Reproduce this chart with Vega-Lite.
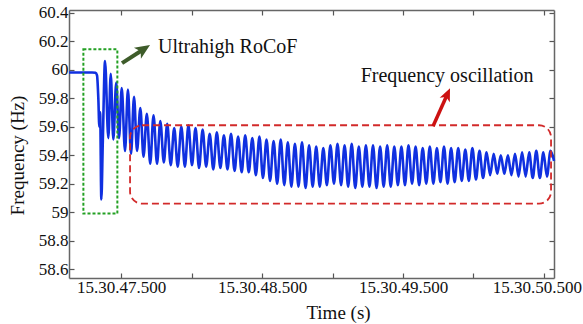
{
  "$schema": "https://vega.github.io/schema/vega-lite/v6.json",
  "width": 485,
  "height": 268,
  "autosize": {"type": "none"},
  "padding": {"left": 69, "top": 10, "right": 29, "bottom": 46},
  "background": "white",
  "config": {
    "font": "Liberation Serif",
    "view": {"stroke": null},
    "axis": {
      "grid": false,
      "domainColor": "#666666",
      "domainWidth": 1.5,
      "tickColor": "#555555",
      "tickWidth": 1.2,
      "tickSize": -5,
      "labelFont": "Liberation Serif",
      "labelFontSize": 17,
      "labelColor": "#111111",
      "titleFont": "Liberation Serif",
      "titleFontSize": 19,
      "titleFontWeight": "normal",
      "titleColor": "#111111",
      "labelOverlap": false
    }
  },
  "layer": [
    {
      "data": {"values": [
        {"t": 47.1312, "f": 59.98}, {"t": 47.2092, "f": 59.98}, {"t": 47.2943, "f": 59.98}, {"t": 47.3191, "f": 59.978},
        {"t": 47.3298, "f": 59.96}, {"t": 47.3390, "f": 59.80}, {"t": 47.3461, "f": 59.60}, {"t": 47.3518, "f": 59.70},
        {"t": 47.3603, "f": 59.09}, {"t": 47.3709, "f": 59.50}, {"t": 47.3865, "f": 60.06}, {"t": 47.4099, "f": 59.52},
        {"t": 47.4270, "f": 59.97}, {"t": 47.4454, "f": 59.51}, {"t": 47.4660, "f": 59.91}, {"t": 47.4858, "f": 59.52},
        {"t": 47.5050, "f": 59.87}, {"t": 47.5284, "f": 59.43}, {"t": 47.5489, "f": 59.86}, {"t": 47.5709, "f": 59.41},
        {"t": 47.5922, "f": 59.81}, {"t": 47.6135, "f": 59.43}, {"t": 47.6369, "f": 59.73}, {"t": 47.6596, "f": 59.39},
        {"t": 47.6830, "f": 59.69}, {"t": 47.7071, "f": 59.34}, {"t": 47.7305, "f": 59.68}, {"t": 47.7553, "f": 59.34},
        {"t": 47.7787, "f": 59.64}, {"t": 47.8035, "f": 59.35}, {"t": 47.8277, "f": 59.62}, {"t": 47.8525, "f": 59.33},
        {"t": 47.8773, "f": 59.59}, {"t": 47.9021, "f": 59.32},
        {"t": 47.9277, "f": 59.60}, {"t": 47.9529, "f": 59.32}, {"t": 47.9781, "f": 59.61}, {"t": 48.0032, "f": 59.33},
        {"t": 48.0284, "f": 59.59}, {"t": 48.0536, "f": 59.31}, {"t": 48.0788, "f": 59.58}, {"t": 48.1039, "f": 59.32},
        {"t": 48.1291, "f": 59.55}, {"t": 48.1543, "f": 59.30}, {"t": 48.1795, "f": 59.56}, {"t": 48.2046, "f": 59.31},
        {"t": 48.2298, "f": 59.54}, {"t": 48.2550, "f": 59.30}, {"t": 48.2802, "f": 59.55}, {"t": 48.3054, "f": 59.29},
        {"t": 48.3305, "f": 59.53}, {"t": 48.3557, "f": 59.28}, {"t": 48.3809, "f": 59.54}, {"t": 48.4061, "f": 59.28},
        {"t": 48.4312, "f": 59.52}, {"t": 48.4564, "f": 59.26}, {"t": 48.4816, "f": 59.53}, {"t": 48.5068, "f": 59.24},
        {"t": 48.5319, "f": 59.51}, {"t": 48.5571, "f": 59.22}, {"t": 48.5823, "f": 59.50}, {"t": 48.6075, "f": 59.20},
        {"t": 48.6327, "f": 59.51}, {"t": 48.6578, "f": 59.19}, {"t": 48.6830, "f": 59.49}, {"t": 48.7082, "f": 59.18},
        {"t": 48.7334, "f": 59.48}, {"t": 48.7585, "f": 59.18}, {"t": 48.7837, "f": 59.49}, {"t": 48.8089, "f": 59.17},
        {"t": 48.8341, "f": 59.47}, {"t": 48.8592, "f": 59.18}, {"t": 48.8844, "f": 59.46}, {"t": 48.9096, "f": 59.18},
        {"t": 48.9348, "f": 59.45}, {"t": 48.9600, "f": 59.19}, {"t": 48.9851, "f": 59.47}, {"t": 49.0103, "f": 59.20},
        {"t": 49.0355, "f": 59.48}, {"t": 49.0607, "f": 59.19}, {"t": 49.0858, "f": 59.47}, {"t": 49.1110, "f": 59.18},
        {"t": 49.1362, "f": 59.48}, {"t": 49.1614, "f": 59.17}, {"t": 49.1866, "f": 59.46}, {"t": 49.2117, "f": 59.18},
        {"t": 49.2369, "f": 59.47}, {"t": 49.2621, "f": 59.18}, {"t": 49.2873, "f": 59.47}, {"t": 49.3124, "f": 59.17},
        {"t": 49.3376, "f": 59.46}, {"t": 49.3628, "f": 59.18}, {"t": 49.3880, "f": 59.47}, {"t": 49.4131, "f": 59.18},
        {"t": 49.4383, "f": 59.46}, {"t": 49.4635, "f": 59.19}, {"t": 49.4887, "f": 59.46}, {"t": 49.5139, "f": 59.19},
        {"t": 49.5390, "f": 59.47}, {"t": 49.5642, "f": 59.20}, {"t": 49.5894, "f": 59.46}, {"t": 49.6146, "f": 59.19},
        {"t": 49.6397, "f": 59.45}, {"t": 49.6649, "f": 59.20}, {"t": 49.6901, "f": 59.46}, {"t": 49.7153, "f": 59.20},
        {"t": 49.7404, "f": 59.45}, {"t": 49.7656, "f": 59.21}, {"t": 49.7908, "f": 59.46}, {"t": 49.8160, "f": 59.20},
        {"t": 49.8412, "f": 59.45}, {"t": 49.8663, "f": 59.21}, {"t": 49.8915, "f": 59.45}, {"t": 49.9167, "f": 59.22},
        {"t": 49.9419, "f": 59.44}, {"t": 49.9670, "f": 59.22}, {"t": 49.9922, "f": 59.45}, {"t": 50.0174, "f": 59.23},
        {"t": 50.0426, "f": 59.43}, {"t": 50.0677, "f": 59.24}, {"t": 50.0929, "f": 59.42}, {"t": 50.1181, "f": 59.26},
        {"t": 50.1433, "f": 59.41}, {"t": 50.1685, "f": 59.27}, {"t": 50.1936, "f": 59.40}, {"t": 50.2188, "f": 59.27},
        {"t": 50.2440, "f": 59.40}, {"t": 50.2692, "f": 59.26}, {"t": 50.2943, "f": 59.41}, {"t": 50.3195, "f": 59.25},
        {"t": 50.3447, "f": 59.42}, {"t": 50.3699, "f": 59.25}, {"t": 50.3950, "f": 59.42}, {"t": 50.4202, "f": 59.24},
        {"t": 50.4454, "f": 59.43}, {"t": 50.4706, "f": 59.24}, {"t": 50.4958, "f": 59.42}, {"t": 50.5209, "f": 59.25},
        {"t": 50.5461, "f": 59.43}, {"t": 50.5713, "f": 59.36}
      ]},
      "mark": {"type": "line", "interpolate": "monotone", "color": "#1030e0", "strokeWidth": 2.6},
      "encoding": {
        "x": {"field": "t", "type": "quantitative",
          "scale": {"domain": [47.131, 50.571], "nice": false, "zero": false},
          "axis": {"orient": "bottom", "values": [47.5, 48, 48.5, 49, 49.5, 50, 50.5],
            "labelExpr": "datum.value % 1 == 0.5 ? '15.30.' + format(datum.value, '.3f') : ''",
            "labelPadding": 6, "labelOffset": {"expr": "datum.value == 50.5 ? -7 : 0"},
            "title": "Time (s)", "titleX": 269, "titleY": 40, "titleBaseline": "alphabetic"}},
        "y": {"field": "f", "type": "quantitative",
          "scale": {"domain": [58.539, 60.418], "nice": false, "zero": false},
          "axis": {"orient": "left", "values": [58.6, 58.8, 59, 59.2, 59.4, 59.6, 59.8, 60, 60.2, 60.4],
            "format": ".1~f", "labelPadding": 6,
            "title": "Frequency (Hz)", "titleX": -52, "titleY": 145, "titleAngle": 270, "titleBaseline": "middle", "titleAlign": "center"}}
      }
    },
    {
      "data": {"values": [{"t1": 47.233, "t2": 47.474, "f1": 58.991, "f2": 60.142}]},
      "mark": {"type": "rect", "filled": false, "stroke": "#23a023", "strokeWidth": 2, "strokeDash": [3, 2]},
      "encoding": {
        "x": {"field": "t1", "type": "quantitative",
          "scale": {"domain": [47.131, 50.571], "nice": false, "zero": false},
          "axis": {"orient": "top", "values": [47.5, 48, 48.5, 49, 49.5, 50, 50.5], "labels": false, "title": null}},
        "x2": {"field": "t2"},
        "y": {"field": "f1", "type": "quantitative",
          "scale": {"domain": [58.539, 60.418], "nice": false, "zero": false},
          "axis": {"orient": "right", "values": [58.6, 58.8, 59, 59.2, 59.4, 59.6, 59.8, 60, 60.2, 60.4], "labels": false, "title": null}},
        "y2": {"field": "f2"}
      }
    },
    {
      "data": {"values": [{"t1": 47.564, "t2": 50.550, "f1": 59.06, "f2": 59.61}]},
      "mark": {"type": "rect", "filled": false, "stroke": "#d22a2a", "strokeWidth": 1.8, "strokeDash": [7, 4], "cornerRadius": 12},
      "encoding": {
        "x": {"field": "t1", "type": "quantitative", "scale": {"domain": [47.131, 50.571], "nice": false, "zero": false}, "axis": null},
        "x2": {"field": "t2"},
        "y": {"field": "f1", "type": "quantitative", "scale": {"domain": [58.539, 60.418], "nice": false, "zero": false}, "axis": null},
        "y2": {"field": "f2"}
      }
    },
    {
      "data": {"values": [{"t1": 47.5071, "f1": 60.0456, "t2": 47.6546, "f2": 60.1393}]},
      "mark": {"type": "rule", "color": "#3e5c2a", "strokeWidth": 4},
      "encoding": {
        "x": {"field": "t1", "type": "quantitative", "scale": {"domain": [47.131, 50.571], "nice": false, "zero": false}, "axis": null},
        "x2": {"field": "t2"},
        "y": {"field": "f1", "type": "quantitative", "scale": {"domain": [58.539, 60.418], "nice": false, "zero": false}, "axis": null},
        "y2": {"field": "f2"}
      }
    },
    {
      "data": {"values": [{"t": 47.6546, "f": 60.1393}]},
      "mark": {"type": "point", "shape": "M0,-1L0.75,0.75L0,0.3L-0.75,0.75Z", "filled": true, "color": "#3e5c2a", "opacity": 1, "size": 294, "angle": 57},
      "encoding": {
        "x": {"field": "t", "type": "quantitative", "scale": {"domain": [47.131, 50.571], "nice": false, "zero": false}, "axis": null},
        "y": {"field": "f", "type": "quantitative", "scale": {"domain": [58.539, 60.418], "nice": false, "zero": false}, "axis": null}
      }
    },
    {
      "data": {"values": [{"t1": 49.7128, "f1": 59.6035, "t2": 49.8121, "f2": 59.8225}]},
      "mark": {"type": "rule", "color": "#cc1111", "strokeWidth": 3.5},
      "encoding": {
        "x": {"field": "t1", "type": "quantitative", "scale": {"domain": [47.131, 50.571], "nice": false, "zero": false}, "axis": null},
        "x2": {"field": "t2"},
        "y": {"field": "f1", "type": "quantitative", "scale": {"domain": [58.539, 60.418], "nice": false, "zero": false}, "axis": null},
        "y2": {"field": "f2"}
      }
    },
    {
      "data": {"values": [{"t": 49.8121, "f": 59.8225}]},
      "mark": {"type": "point", "shape": "M0,-1L0.75,0.75L0,0.3L-0.75,0.75Z", "filled": true, "color": "#cc1111", "opacity": 1, "size": 219, "angle": 24},
      "encoding": {
        "x": {"field": "t", "type": "quantitative", "scale": {"domain": [47.131, 50.571], "nice": false, "zero": false}, "axis": null},
        "y": {"field": "f", "type": "quantitative", "scale": {"domain": [58.539, 60.418], "nice": false, "zero": false}, "axis": null}
      }
    },
    {
      "data": {"values": [
        {"t": 47.762, "f": 60.116, "label": "Ultrahigh RoCoF"},
        {"t": 49.200, "f": 59.914, "label": "Frequency oscillation"}
      ]},
      "mark": {"type": "text", "align": "left", "baseline": "alphabetic", "font": "Liberation Serif", "fontSize": 20, "color": "#111111"},
      "encoding": {
        "x": {"field": "t", "type": "quantitative", "scale": {"domain": [47.131, 50.571], "nice": false, "zero": false}, "axis": null},
        "y": {"field": "f", "type": "quantitative", "scale": {"domain": [58.539, 60.418], "nice": false, "zero": false}, "axis": null},
        "text": {"field": "label"}
      }
    }
  ],
  "resolve": {"axis": {"x": "independent", "y": "independent"}}
}
